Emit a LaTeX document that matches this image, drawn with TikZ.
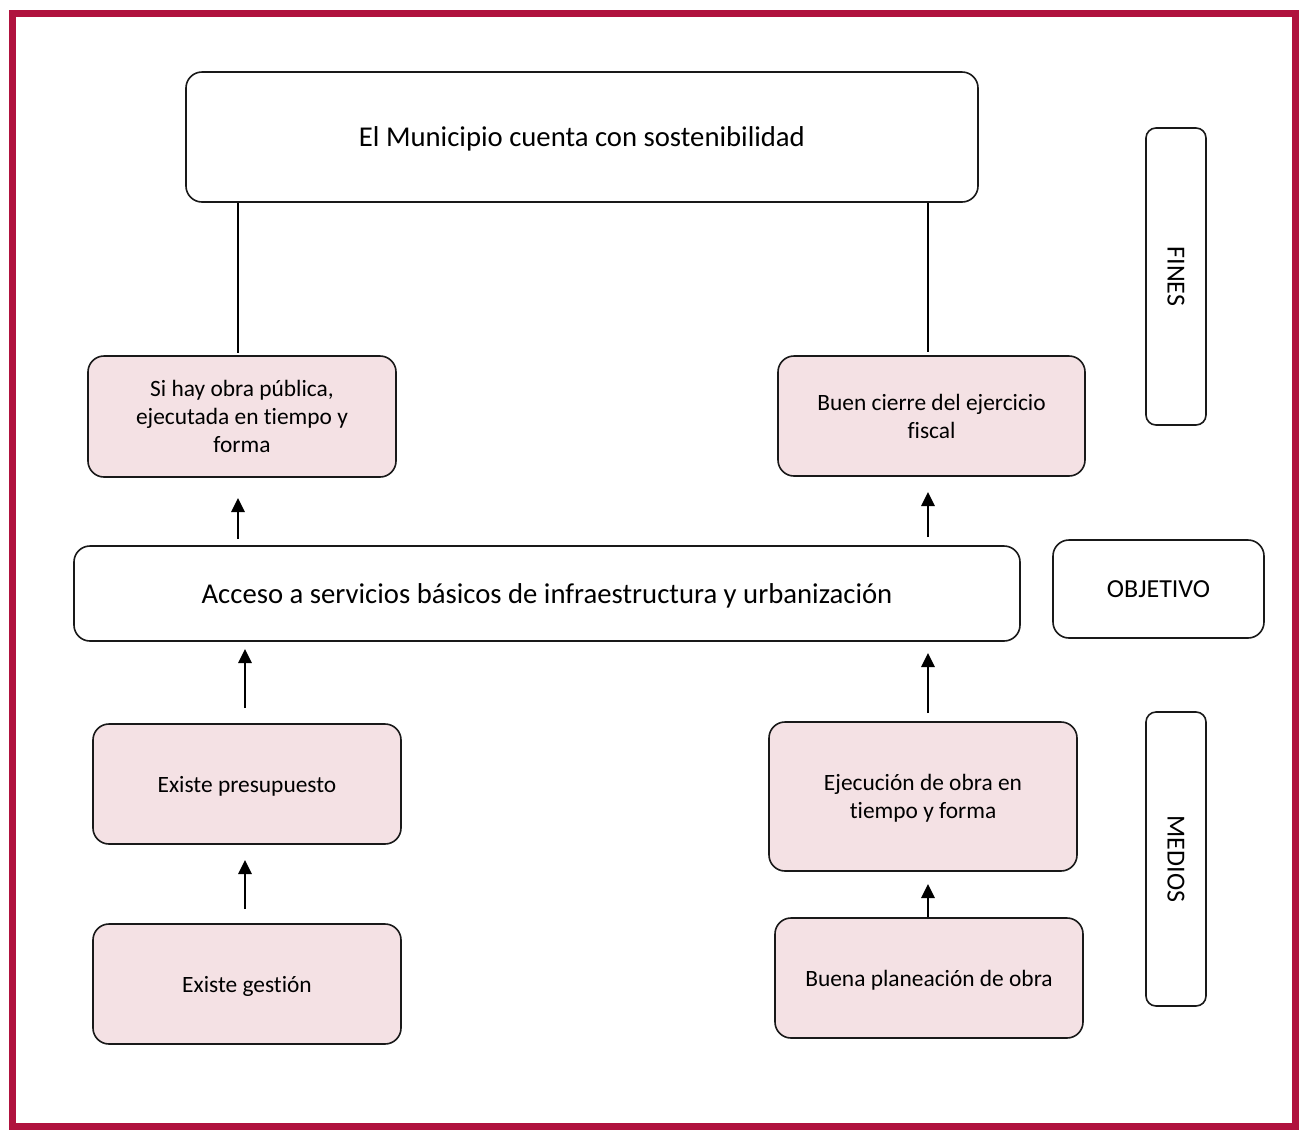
\documentclass[tikz,border=0pt]{standalone}
\usepackage{fontspec}
\setmainfont{Carlito}[Ligatures=NoCommon]
\usetikzlibrary{arrows.meta}
\definecolor{frame}{HTML}{B0123E}
\definecolor{pinkfill}{HTML}{F4E1E4}
\tikzset{
  box/.style={draw=black!90, line width=1.6pt, rounded corners=16pt, align=center, inner sep=0pt, text depth=0pt},
  pinkbox/.style={box, fill=pinkfill, font=\fontsize{23.4}{28}\selectfont},
  whitebox/.style={box, fill=white},
  bigtext/.style={font=\fontsize{28.7}{34}\selectfont},
  labtext/.style={font=\fontsize{26}{30}\selectfont},
  uparrow/.style={line width=2.8pt, -{Triangle[length=14pt,width=13pt]}},
  link/.style={line width=1.8pt}
}
\begin{document}
\begin{tikzpicture}[x=1pt,y=-1pt]
\useasboundingbox (0,0) rectangle (1299,1136);
\fill[white] (0,0) rectangle (1299,1136);
\draw[frame, line width=7pt] (12.5,13) rectangle (1295.5,1126.5);

% top
\node[whitebox, bigtext, minimum width=792pt, minimum height=130pt] (top) at (582,137) {El Municipio cuenta con sostenibilidad};
% fines row
\node[pinkbox, minimum width=308pt, minimum height=121pt] (f1) at (242,416.5) {Si hay obra pública,\\ejecutada en tiempo y\\forma};
\node[pinkbox, minimum width=307pt, minimum height=120pt] (f2) at (931.5,416) {Buen cierre del ejercicio\\fiscal};
% objective
\node[whitebox, bigtext, minimum width=946pt, minimum height=95pt] (obj) at (547,593.5) {Acceso a servicios básicos de infraestructura y urbanización};
% medios
\node[pinkbox, minimum width=308pt, minimum height=120pt] (m1) at (247,784) {Existe presupuesto};
\node[pinkbox, minimum width=308pt, minimum height=149pt] (m2) at (923,796.5) {Ejecución de obra en\\tiempo y forma};
\node[pinkbox, minimum width=308pt, minimum height=120pt] (m3) at (247,984) {Existe gestión};
\node[pinkbox, minimum width=308pt, minimum height=120pt] (m4) at (929,978) {Buena planeación de obra};

% side labels
\node[whitebox, labtext, minimum width=60pt, minimum height=297pt, rounded corners=10pt] (fines) at (1176,276.5) {};
\node[labtext, rotate=-90] (finest) at (fines.center) {FINES};
\node[whitebox, labtext, minimum width=211pt, minimum height=98pt, rounded corners=16pt] (objl) at (1158.5,589) {OBJETIVO};
\node[whitebox, labtext, minimum width=60pt, minimum height=294pt, rounded corners=10pt] (medios) at (1176,859) {};
\node[labtext, rotate=-90] (mediost) at (medios.center) {MEDIOS};

% connectors
\draw[link] (top.south -| f1.north) ++(-4,0) -- ++(0,150);
\draw[link] (top.south -| 928,0) -- (928,352);
\draw[uparrow] (obj.north -| 238,0) ++(0,-6) -- (238,498);
\draw[uparrow] (obj.north -| 928,0) ++(0,-8) -- (928,492);
\draw[uparrow] (245,708) -- (245,649);
\draw[uparrow] (928,713) -- (928,653);
\draw[uparrow] (m3.north -| 245,0) ++(0,-14) -- (245,860);
\draw[uparrow] (m4.north -| 928,0) -- (928,884);
\end{tikzpicture}
\end{document}
